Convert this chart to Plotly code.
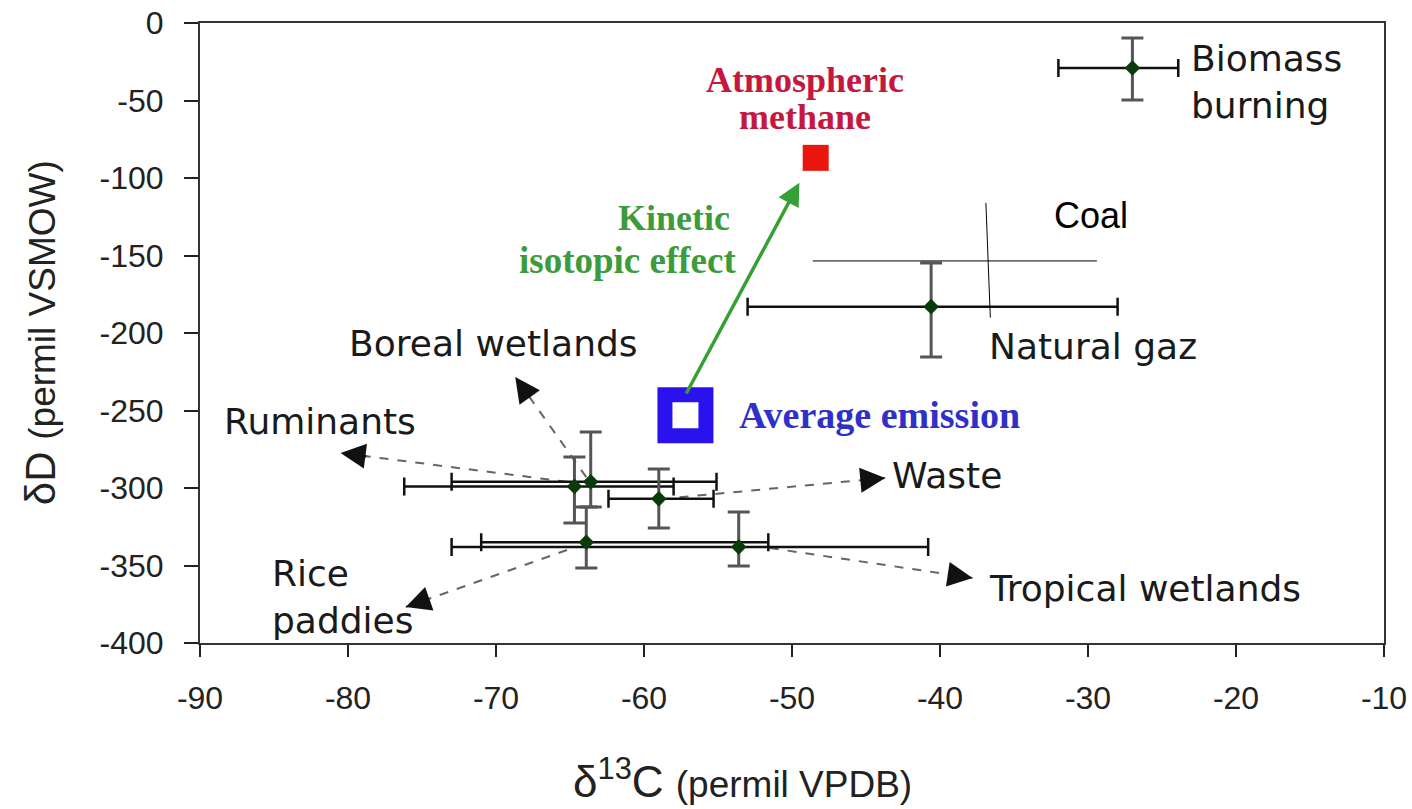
import plotly.graph_objects as go

# ---------------- data ----------------
sources = ["Biomass burning", "Natural gaz", "Ruminants", "Boreal wetlands",
           "Waste", "Rice paddies", "Tropical wetlands"]
d13c = [-27.0, -40.6, -64.7, -63.6, -59.0, -63.9, -53.6]
dD = [-29, -183, -299, -296, -307, -335, -338]
d13c_low = [-32.0, -53.0, -76.2, -73.0, -62.4, -71.0, -73.0]
d13c_high = [-23.9, -28.0, -58.0, -55.1, -55.3, -51.6, -40.8]
dD_low = [-49.7, -215.5, -322.6, -312.3, -325.8, -351.6, -350.3]
dD_high = [-9.7, -154.8, -280.0, -263.9, -287.7, -312.3, -315.5]

atmospheric = (-48.4, -87)
average_emission = (-57.2, -253)

# dashed pointers: tail (at source cluster) -> head (towards label)
pointer_tail_x = [-65.2, -63.9, -57.6, -51.5, -65.2]
pointer_tail_y = [-296, -293, -306, -338.7, -340]
pointer_head_x = [-80.5, -68.7, -43.7, -37.8, -76.1]
pointer_head_y = [-277.4, -228.4, -293.5, -358, -376.8]

# coal cross (thin lines)
coal_h = ([-48.6, -29.4], [-153.5, -153.5])
coal_v = ([-36.9, -36.6], [-116, -190])

# kinetic isotope effect arrow
kie_tail = (-57.2, -240)
kie_head = (-49.5, -103)

x_ticks = [-90, -80, -70, -60, -50, -40, -30, -20, -10]
x_ticktext = ["-90", "-80", "-70", "-60", "-50", "-40", "-30", "-20", "-10"]
y_ticks = [0, -50, -100, -150, -200, -250, -300, -350, -400]
y_ticktext = ["0", "-50", "-100", "-150", "-200", "-250", "-300", "-350", "-400"]

# labels: (text, x, y)
labels_left = [
    ("Biomass<br>burning", -23.2, -38),
    ("Natural gaz", -36.8, -209),
    ("Boreal wetlands", -80.1, -207),
    ("Ruminants", -88.5, -257),
    ("Waste", -43.4, -292),
    ("Tropical wetlands", -36.8, -365),
    ("Rice<br>paddies", -85.3, -370),
]

# ---------------- figure ----------------
fig = go.Figure()

err_plus_x = [h - c for h, c in zip(d13c_high, d13c)]
err_minus_x = [c - l for l, c in zip(d13c_low, d13c)]
err_plus_y = [h - c for h, c in zip(dD_high, dD)]
err_minus_y = [c - l for l, c in zip(dD_low, dD)]

fig.add_trace(go.Scatter(
    x=d13c, y=dD, mode="markers", name="sources", text=sources,
    marker=dict(symbol="diamond", size=12, color="#0b3a0b"),
    error_x=dict(type="data", symmetric=False, array=err_plus_x, arrayminus=err_minus_x,
                 color="#111111", thickness=2.5, width=9),
    error_y=dict(type="data", symmetric=False, array=err_plus_y, arrayminus=err_minus_y,
                 color="#555555", thickness=3, width=11),
    showlegend=False,
))

fig.add_trace(go.Scatter(
    x=[atmospheric[0]], y=[atmospheric[1]], mode="markers",
    marker=dict(symbol="square", size=26, color="#e8160c"), showlegend=False))
fig.add_trace(go.Scatter(
    x=[average_emission[0]], y=[average_emission[1]], mode="markers",
    marker=dict(symbol="square", size=41, color="white",
                line=dict(color="#2a12ee", width=15)), showlegend=False))

shapes = []
for tx, ty, hx, hy in zip(pointer_tail_x, pointer_tail_y, pointer_head_x, pointer_head_y):
    shapes.append(dict(type="line", xref="x", yref="y", x0=tx, y0=ty, x1=hx, y1=hy,
                       line=dict(color="#666666", width=2, dash="dash"), layer="below"))
for xs, ys in (coal_h, coal_v):
    shapes.append(dict(type="line", xref="x", yref="y", x0=xs[0], y0=ys[0], x1=xs[1], y1=ys[1],
                       line=dict(color="#000000", width=1)))

annotations = []
# arrowheads for pointers
for tx, ty, hx, hy in zip(pointer_tail_x, pointer_tail_y, pointer_head_x, pointer_head_y):
    f = 0.12
    annotations.append(dict(x=hx, y=hy, ax=hx + (tx - hx) * f, ay=hy + (ty - hy) * f,
                            xref="x", yref="y", axref="x", ayref="y", text="",
                            showarrow=True, arrowhead=2, arrowsize=2.0, arrowwidth=2.5,
                            arrowcolor="#111111"))
# KIE arrow
annotations.append(dict(x=kie_head[0], y=kie_head[1], ax=kie_tail[0], ay=kie_tail[1],
                        xref="x", yref="y", axref="x", ayref="y", text="",
                        showarrow=True, arrowhead=2, arrowsize=1.3, arrowwidth=3.5,
                        arrowcolor="#35a035"))

sans = "DejaVu Sans"
for txt, x, y in labels_left:
    annotations.append(dict(x=x, y=y, xref="x", yref="y", text=txt, showarrow=False,
                            xanchor="left", yanchor="middle", align="left",
                            font=dict(family=sans, size=36, color="#1a1a1a")))

annotations.append(dict(x=-32.4, y=-124.5, xref="x", yref="y", text="Coal", showarrow=False,
                        xanchor="left", yanchor="middle",
                        font=dict(family="Liberation Sans", size=36, color="#000000")))

serif = "Liberation Serif"
for txt, x, y, col, sz in [("<b>Atmospheric</b>", -49.1, -36.8, "#c4183e", 36),
                           ("<b>methane</b>", -49.1, -60.6, "#c4183e", 36),
                           ("<b>Kinetic</b>", -58.0, -125.8, "#3c9c3c", 36),
                           ("<b>isotopic effect</b>", -61.1, -152.9, "#3c9c3c", 37)]:
    annotations.append(dict(x=x, y=y, xref="x", yref="y", text=txt, showarrow=False,
                            xanchor="center", yanchor="middle",
                            font=dict(family=serif, size=sz, color=col)))
annotations.append(dict(x=-53.7, y=-253, xref="x", yref="y", text="<b>Average emission</b>",
                        showarrow=False, xanchor="left", yanchor="middle",
                        font=dict(family=serif, size=38, color="#3030c8")))

# axis titles
annotations.append(dict(x=0.458, y=-0.218, xref="paper", yref="paper",
                        text="δ<sup>13</sup>C <span style='font-size:37px'>(permil VPDB)</span>",
                        showarrow=False, xanchor="center", yanchor="middle",
                        font=dict(family="Liberation Sans", size=44, color="#222222")))
annotations.append(dict(x=-0.135, y=0.5, xref="paper", yref="paper",
                        text="δD <span style='font-size:37px'>(permil VSMOW)</span>",
                        showarrow=False, xanchor="center", yanchor="middle", textangle=-90,
                        font=dict(family="Liberation Sans", size=42, color="#222222")))

tickfont = dict(family="Liberation Sans", size=32, color="#222222")
fig.update_layout(
    width=1412, height=809,
    margin=dict(l=200, r=28, t=23, b=166, autoexpand=False),
    paper_bgcolor="white", plot_bgcolor="white",
    shapes=shapes, annotations=annotations,
    xaxis=dict(range=[-90, -10], tickvals=x_ticks, ticktext=x_ticktext, ticks="outside",
               ticklen=12, tickwidth=2, tickcolor="#222", showline=True, linecolor="#333",
               linewidth=2, mirror=True, showgrid=False, zeroline=False, tickfont=tickfont,
               ticklabelstandoff=14, automargin=False),
    yaxis=dict(range=[-400, 0], tickvals=y_ticks, ticktext=y_ticktext, ticks="outside",
               ticklen=14, tickwidth=2, tickcolor="#222", showline=True, linecolor="#333",
               linewidth=2, mirror=True, showgrid=False, zeroline=False, tickfont=tickfont,
               ticklabelstandoff=14, automargin=False),
)

fig.write_html("out.html")
